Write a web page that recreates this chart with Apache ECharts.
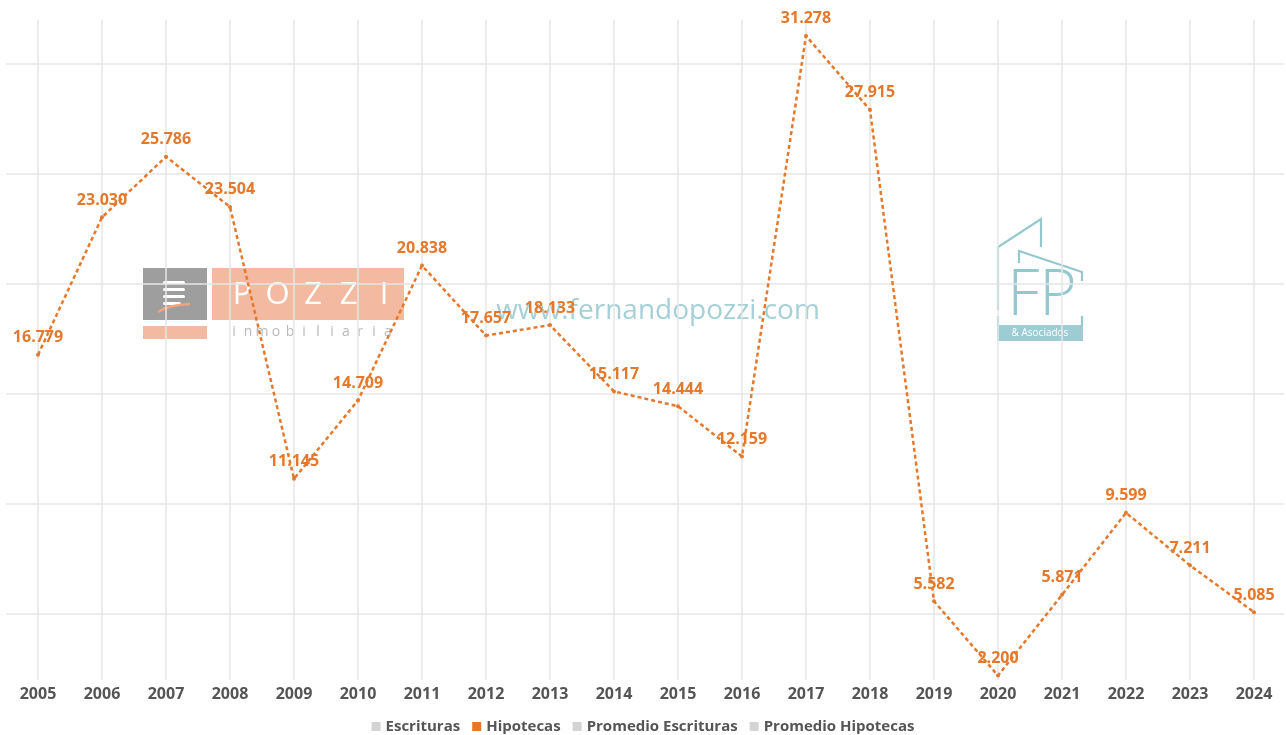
<!DOCTYPE html>
<html><head><meta charset="utf-8">
<script src="https://cdn.jsdelivr.net/npm/echarts@6/dist/echarts.min.js"></script>
<style>html,body{margin:0;padding:0;background:#fff}#c{width:1286px;height:735px}</style>
</head><body><div id="c"></div>
<script>
const years = ['2005','2006','2007','2008','2009','2010','2011','2012','2013','2014','2015','2016','2017','2018','2019','2020','2021','2022','2023','2024'];
const hipotecas = [16779,23030,25786,23504,11145,14709,20838,17657,18133,15117,14444,12159,31278,27915,5582,2200,5871,9599,7211,5085];
const legendNames = ['Escrituras','Hipotecas','Promedio Escrituras','Promedio Hipotecas'];
const yMin = 2000, yMax = 32000;
const gridFrom = 5000, gridTo = 30000, gridStep = 5000;

const ORANGE = '#E5782B';
const GREY_ICON = '#d4d4d4';
const TEAL = '#93c8cf';
const FONT = '"Open Sans", "Noto Sans", sans-serif';

function fmt(v){ return String(v).replace(/\B(?=(\d{3})+(?!\d))/g, '.'); }

const chart = echarts.init(document.getElementById('c'), null, {renderer:'canvas'});

// watermark graphics
const pozziLetters = ['P','O','Z','Z','I'];
const inmoLetters = 'inmobiliaria'.split('');
const graphics = [];
graphics.push({type:'rect', z:-10, shape:{x:143, y:268, width:64, height:52}, style:{fill:'#9e9e9e'}});
graphics.push({type:'rect', z:-10, shape:{x:143, y:326, width:64, height:13}, style:{fill:'#f4b9a1'}});
graphics.push({type:'rect', z:-10, shape:{x:212, y:268, width:192, height:52}, style:{fill:'#f4b9a1'}});
[281,288,295,302].forEach(function(yy,i){
  graphics.push({type:'rect', z:-9, shape:{x:163, y:yy, width:22-(i==3?4:0), height:3, r:1.5}, style:{fill:'#ffffff'}});
});
graphics.push({type:'bezierCurve', z:-9, shape:{x1:158,y1:312,x2:190,y2:304,cpx1:168,cpy1:305}, style:{stroke:'#f4a27f', lineWidth:2.5, fill:null}});
pozziLetters.forEach(function(ch,i){
  graphics.push({type:'text', z:-9, style:{text:ch, x:242+i*35.5, y:295, fill:'#ffffff', font:'400 31px "Open Sans", sans-serif', align:'center', verticalAlign:'middle'}});
});
inmoLetters.forEach(function(ch,i){
  graphics.push({type:'text', z:-9, style:{text:ch, x:234+i*14, y:332, fill:'#b9b9b9', font:'400 14px "Open Sans", sans-serif', align:'center', verticalAlign:'middle'}});
});
graphics.push({type:'text', z:-9, style:{text:'www.fernandopozzi.com', x:658, y:311, fill:'#a5d0d7', font:'400 28px "Open Sans", sans-serif', align:'center', verticalAlign:'middle'}});
// FP logo
graphics.push({type:'polyline', z:-9, shape:{points:[[998,310],[998,247],[1041,219],[1041,247]]}, style:{stroke:TEAL, lineWidth:2.2, fill:null}});
graphics.push({type:'polyline', z:-9, shape:{points:[[1019,263],[1019,251],[1082,272],[1082,281]]}, style:{stroke:TEAL, lineWidth:2.2, fill:null}});
graphics.push({type:'polyline', z:-9, shape:{points:[[998,316],[998,326]]}, style:{stroke:TEAL, lineWidth:2.2, fill:null}});
graphics.push({type:'polyline', z:-9, shape:{points:[[1082,316],[1082,326]]}, style:{stroke:TEAL, lineWidth:2.2, fill:null}});
graphics.push({type:'text', z:-9, style:{text:'FP', x:1042, y:297, fill:TEAL, font:'300 64px "Open Sans", sans-serif', align:'center', verticalAlign:'middle'}});
graphics.push({type:'rect', z:-9, shape:{x:997, y:325, width:86, height:16}, style:{fill:'#9dcdd3'}});
graphics.push({type:'text', z:-8, style:{text:'& Asociados', x:1040, y:333.5, fill:'#ffffff', font:'400 10px "Open Sans", sans-serif', align:'center', verticalAlign:'middle'}});

const option = {
  backgroundColor:'#ffffff',
  animation:false,
  graphic: graphics,
  legend: {
    data: legendNames,
    top: 714,
    left: 'center',
    itemWidth: 9, itemHeight: 9, itemGap: 12,
    icon: 'rect',
    textStyle: {color:'#555555', fontSize:15, fontWeight:'bold', fontFamily:FONT}
  },
  grid: [
    {left:6, right:2, top:64, bottom:121},
    {left:38, right:32, top:20, bottom:55}
  ],
  xAxis: [
    {type:'value', gridIndex:0, show:false, min:0, max:1},
    {type:'category', gridIndex:1, data:years, boundaryGap:false,
     axisLine:{show:false}, axisTick:{show:false},
     axisLabel:{color:'#555555', fontSize:16, fontWeight:'bold', fontFamily:FONT, margin:6},
     splitLine:{show:true, lineStyle:{color:'#e6e6e6', width:1.5}}}
  ],
  yAxis: [
    {type:'value', gridIndex:0, min:gridFrom, max:gridTo, interval:gridStep,
     axisLine:{show:false}, axisTick:{show:false}, axisLabel:{show:false},
     splitLine:{show:true, lineStyle:{color:'#e6e6e6', width:1.5}}},
    {type:'value', gridIndex:1, min:yMin, max:yMax, show:false, splitLine:{show:false}}
  ],
  series: [
    {name:'Escrituras', type:'line', xAxisIndex:1, yAxisIndex:1, data:[], color:GREY_ICON},
    {name:'Hipotecas', type:'line', xAxisIndex:1, yAxisIndex:1, data:hipotecas, color:ORANGE,
     symbol:'circle', symbolSize:4, showSymbol:true,
     lineStyle:{color:ORANGE, width:2.5, type:[4,3]},
     itemStyle:{color:ORANGE},
     label:{show:true, position:'top', distance:7, color:ORANGE, fontSize:16, fontWeight:'bold', fontFamily:FONT,
            formatter:function(p){return fmt(p.value);}},
     z:5},
    {name:'Promedio Escrituras', type:'line', xAxisIndex:1, yAxisIndex:1, data:[], color:GREY_ICON},
    {name:'Promedio Hipotecas', type:'line', xAxisIndex:1, yAxisIndex:1, data:[], color:GREY_ICON}
  ]
};
chart.setOption(option);
</script>
</body></html>
